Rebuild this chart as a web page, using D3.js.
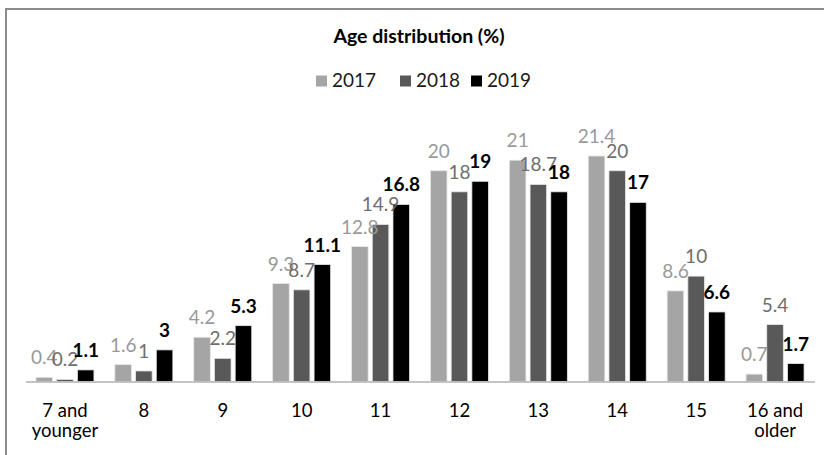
<!DOCTYPE html>
<html>
<head>
<meta charset="utf-8">
<script src="https://cdn.jsdelivr.net/npm/d3@7"></script>
<style>
  html, body { margin: 0; padding: 0; background: #fff; }
  svg { display: block; }
  text { font-family: Lato, "Open Sans", sans-serif; }
</style>
</head>
<body>
<svg id="chart" width="824" height="455"></svg>
<script>
const categories = ["7 and\nyounger", "8", "9", "10", "11", "12", "13", "14", "15", "16 and\nolder"];
const seriesNames = ["2017", "2018", "2019"];
const values2017 = [0.4, 1.6, 4.2, 9.3, 12.8, 20, 21, 21.4, 8.6, 0.7];
const values2018 = [0.2, 1, 2.2, 8.7, 14.9, 18, 18.7, 20, 10, 5.4];
const values2019 = [1.1, 3, 5.3, 11.1, 16.8, 19, 18, 17, 6.6, 1.7];
const title = "Age distribution (%)";

const seriesValues = [values2017, values2018, values2019];
const barColors = ["#a5a5a5", "#595959", "#000000"];
const labelColors = ["#999999", "#6e6e6e", "#000000"];
const labelWeights = ["normal", "normal", "bold"];

const svg = d3.select("#chart");

// outer frame
svg.append("rect")
  .attr("x", 6).attr("y", 9)
  .attr("width", 900).attr("height", 600)
  .attr("fill", "none")
  .attr("stroke", "#8c8c8c")
  .attr("stroke-width", 2);

const baseY = 381.5;
const x = d3.scaleBand()
  .domain(categories)
  .range([25.5, 814.5])
  .paddingInner(0.265)
  .paddingOuter(0.1325);

const xInner = d3.scaleBand()
  .domain(seriesNames)
  .range([0, x.bandwidth()])
  .paddingInner(0.2)
  .paddingOuter(0);

const y = d3.scaleLinear()
  .domain([0, 21.4])
  .range([baseY, 156]);

// title
svg.append("text")
  .attr("x", 419)
  .attr("y", 43)
  .attr("text-anchor", "middle")
  .attr("font-weight", "bold")
  .attr("font-size", 19.5)
  .attr("fill", "#000")
  .text(title);

// legend
const legendX = [316, 400, 471];
const legend = svg.append("g");
seriesNames.forEach((name, i) => {
  legend.append("rect")
    .attr("x", legendX[i]).attr("y", 75.5)
    .attr("width", 11).attr("height", 11)
    .attr("fill", barColors[i]);
  legend.append("text")
    .attr("x", legendX[i] + 16)
    .attr("y", 87)
    .attr("font-size", 19)
    .attr("fill", "#1a1a1a")
    .text(name);
});

// bars
const groups = svg.append("g")
  .selectAll("g")
  .data(categories)
  .join("g")
  .attr("transform", d => `translate(${x(d)},0)`);

seriesNames.forEach((name, si) => {
  groups.append("rect")
    .attr("x", xInner(name))
    .attr("width", xInner.bandwidth())
    .attr("y", (d, ci) => y(seriesValues[si][ci]))
    .attr("height", (d, ci) => baseY - y(seriesValues[si][ci]))
    .attr("fill", barColors[si])
    .attr("stroke", "#e6e6e6")
    .attr("stroke-width", 0.8);
});

seriesNames.forEach((name, si) => {
  groups.append("text")
    .attr("x", xInner(name) + xInner.bandwidth() / 2)
    .attr("y", (d, ci) => y(seriesValues[si][ci]) - 13)
    .attr("text-anchor", "middle")
    .attr("font-size", 19)
    .attr("font-weight", labelWeights[si])
    .attr("fill", labelColors[si])
    .text((d, ci) => seriesValues[si][ci]);
});

// x axis
const axis = svg.append("g")
  .attr("transform", `translate(0,${baseY})`)
  .call(d3.axisBottom(x).tickSize(0).tickFormat(""));
axis.select(".domain")
  .attr("stroke", "#b0b0b0")
  .attr("stroke-width", 1.5);

const tickLabels = svg.append("g");
categories.forEach(c => {
  const lines = c.split("\n");
  const t = tickLabels.append("text")
    .attr("text-anchor", "middle")
    .attr("font-size", 18.5)
    .attr("fill", "#000");
  lines.forEach((ln, i) => {
    t.append("tspan")
      .attr("x", x(c) + x.bandwidth() / 2)
      .attr("y", 417 + i * 20)
      .text(ln);
  });
});
</script>
</body>
</html>
